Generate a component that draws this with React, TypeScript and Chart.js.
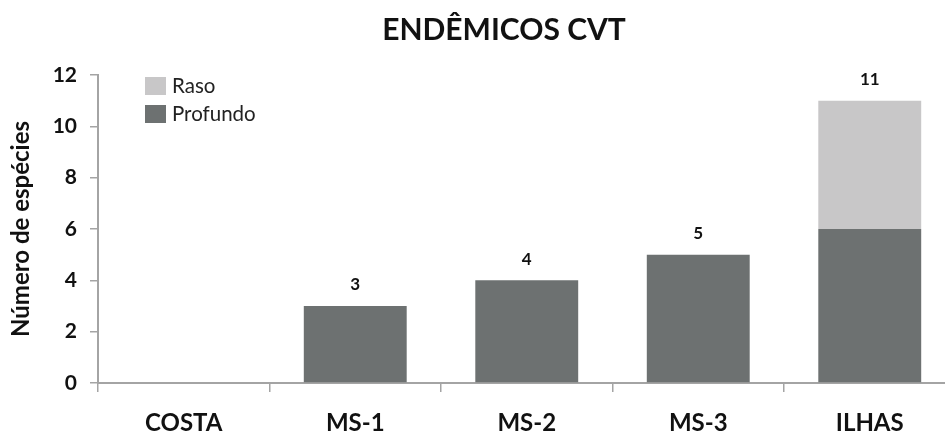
import React, { useEffect, useRef } from "react";
import { Chart, registerables } from "chart.js";

Chart.register(...registerables);

// Data
const categories = ["COSTA", "MS-1", "MS-2", "MS-3", "ILHAS"];
const profundoValues = [0, 3, 4, 5, 6];
const rasoValues = [0, 0, 0, 0, 5];
const yTickValues = [0, 2, 4, 6, 8, 10, 12];
const seriesLabels = { profundo: "Profundo", raso: "Raso" };
const chartTitle = "ENDÊMICOS CVT";
const yAxisTitle = "Número de espécies";

// Styles
const FONT = "Lato, 'Open Sans', sans-serif";
const TEXT_COLOR = "#111111";
const AXIS_COLOR = "#a4a4a4";
const PROFUNDO_COLOR = "#6d7171";
const RASO_COLOR = "#c8c7c8";
const CANVAS_W = 1008;
const CANVAS_H = 432;

// Heading centred across the canvas
const headingPlugin = {
  id: "heading",
  afterDraw(chart: any) {
    const { ctx } = chart;
    ctx.save();
    ctx.font = `bold 30px ${FONT}`;
    ctx.fillStyle = TEXT_COLOR;
    ctx.textAlign = "center";
    ctx.textBaseline = "alphabetic";
    ctx.fillText(chartTitle, chart.width / 2, 40);
    ctx.restore();
  },
};

// Stack totals written above each column
const totalsPlugin = {
  id: "stackTotals",
  afterDatasetsDraw(chart: any) {
    const { ctx, scales } = chart;
    const yScale = scales.y;
    const lastMeta = chart.getDatasetMeta(chart.data.datasets.length - 1);
    ctx.save();
    ctx.font = `bold 17px ${FONT}`;
    ctx.fillStyle = TEXT_COLOR;
    ctx.textAlign = "center";
    ctx.textBaseline = "middle";
    categories.forEach((_, i) => {
      const total = chart.data.datasets.reduce(
        (s: number, ds: any) => s + (ds.data[i] || 0),
        0
      );
      if (total <= 0) return;
      const x = lastMeta.data[i].x;
      const y = yScale.getPixelForValue(total) - 21;
      ctx.fillText(String(total), x, y);
    });
    ctx.restore();
  },
};

// Legend box in the upper-left of the plot area (top entry = top of stack)
const insetLegendPlugin = {
  id: "insetLegend",
  afterDraw(chart: any) {
    const { ctx, chartArea } = chart;
    const entries = [...chart.data.datasets].reverse();
    ctx.save();
    ctx.font = `20.5px ${FONT}`;
    ctx.textAlign = "left";
    ctx.textBaseline = "middle";
    entries.forEach((ds: any, i: number) => {
      const bx = chartArea.left + 47;
      const by = chartArea.top + 2 + i * 28;
      ctx.fillStyle = ds.backgroundColor;
      ctx.fillRect(bx, by, 21, 18);
      ctx.fillStyle = "#222222";
      ctx.fillText(ds.label, bx + 27, by + 9.5);
    });
    ctx.restore();
  },
};

export default function App() {
  const canvasRef = useRef<HTMLCanvasElement | null>(null);

  useEffect(() => {
    const canvas = canvasRef.current;
    if (!canvas) return;
    const chart = new Chart(canvas, {
      type: "bar",
      data: {
        labels: categories,
        datasets: [
          {
            label: seriesLabels.profundo,
            data: profundoValues,
            backgroundColor: PROFUNDO_COLOR,
            borderWidth: 0,
            barPercentage: 0.6,
            categoryPercentage: 1,
          },
          {
            label: seriesLabels.raso,
            data: rasoValues,
            backgroundColor: RASO_COLOR,
            borderWidth: 0,
            barPercentage: 0.6,
            categoryPercentage: 1,
          },
        ],
      },
      options: {
        responsive: false,
        animation: false,
        devicePixelRatio: 1,
        layout: { padding: { left: 0, right: 52.5, top: 75, bottom: 0 } },
        plugins: {
          legend: { display: false },
          tooltip: { enabled: false },
          title: { display: false },
        },
        scales: {
          x: {
            stacked: true,
            afterFit(scale: any) {
              scale.height = 49;
            },
            border: { display: true, color: AXIS_COLOR, width: 2 },
            grid: {
              offset: true,
              drawOnChartArea: false,
              drawTicks: true,
              tickLength: 9,
              color: AXIS_COLOR,
              lineWidth: 1.5,
            },
            ticks: {
              color: TEXT_COLOR,
              font: { family: FONT, size: 24, weight: "bold" },
              padding: 17,
              maxRotation: 0,
            },
          },
          y: {
            stacked: true,
            min: 0,
            max: 12,
            afterFit(scale: any) {
              scale.width = 98;
            },
            afterBuildTicks(scale: any) {
              scale.ticks = yTickValues.map((v) => ({ value: v }));
            },
            border: { display: true, color: AXIS_COLOR, width: 2 },
            grid: {
              drawOnChartArea: false,
              drawTicks: true,
              tickLength: 8,
              color: AXIS_COLOR,
              lineWidth: 1.5,
            },
            ticks: {
              color: TEXT_COLOR,
              font: { family: FONT, size: 21, weight: "bold" },
              padding: 13,
            },
            title: {
              display: true,
              text: yAxisTitle,
              color: TEXT_COLOR,
              font: { family: FONT, size: 24, weight: "bold" },
              padding: { top: 7, bottom: 0 },
            },
          },
        },
      },
      plugins: [totalsPlugin, insetLegendPlugin, headingPlugin],
    } as any);
    return () => chart.destroy();
  }, []);

  return (
    <div
      style={{
        position: "fixed",
        left: 0,
        top: 0,
        width: 945,
        height: CANVAS_H,
        overflow: "hidden",
        background: "#ffffff",
      }}
    >
      <canvas
        ref={canvasRef}
        width={CANVAS_W}
        height={CANVAS_H}
        style={{ width: CANVAS_W, height: CANVAS_H, display: "block" }}
      />
    </div>
  );
}
